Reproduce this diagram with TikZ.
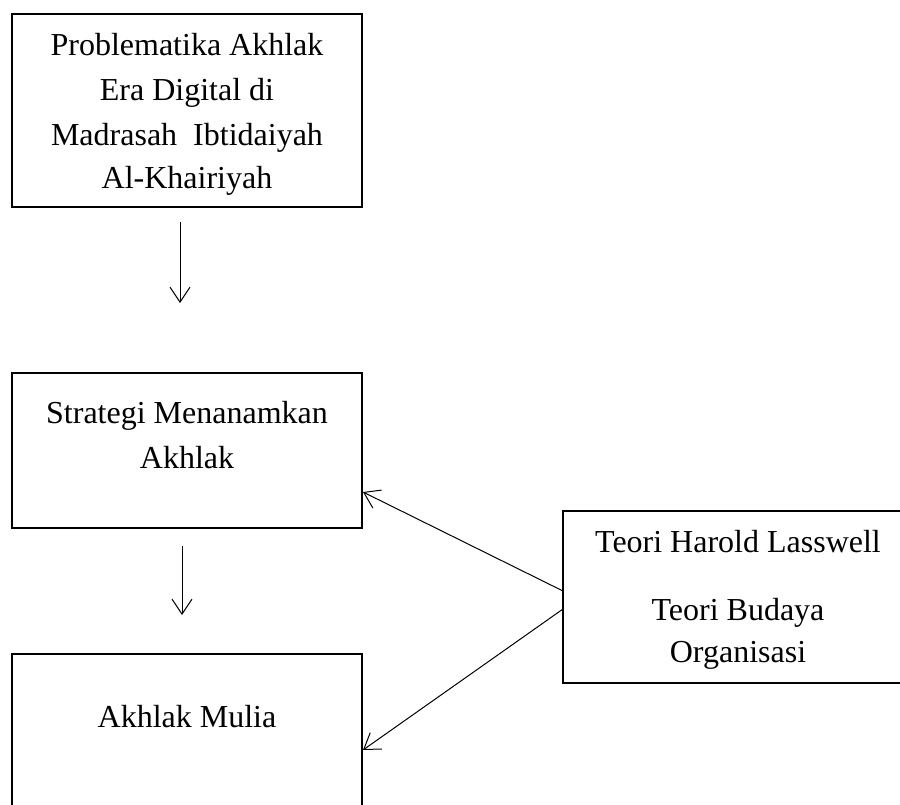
\documentclass[tikz,border=0pt]{standalone}
\usepackage{fontspec}
\setmainfont{Liberation Serif}
\usetikzlibrary{arrows.meta,calc}
\begin{document}
\begin{tikzpicture}[x=1pt,y=-1pt,
  box/.style={draw=black,line width=2pt,minimum width=350,inner sep=0pt,outer sep=0pt},
  lbl/.style={anchor=base,inner sep=0pt,font=\fontsize{32}{44}\selectfont},
  conn/.style={line width=1pt,-{Straight Barb[length=15pt,width=20pt,line width=1pt]}}]
\useasboundingbox (0,0) rectangle (900,804);
\clip (0,0) rectangle (900,804);
\fill[white] (0,0) rectangle (900,804);
% boxes
\node[box,minimum height=193] (b1) at (187,110.5) {};
\node[box,minimum height=155] (b2) at (187,450.5) {};
\node[box,minimum height=186] (b3) at (187,747) {};
\node[box,minimum height=172] (b4) at (738,597) {};
% texts
\node[lbl] (t11) at (187,55) {Problematika Akhlak};
\node[lbl] (t12) at (187,100) {Era Digital di};
\node[lbl] (t13) at (187,145) {Madrasah~ Ibtidaiyah};
\node[lbl] (t14) at (187,188) {Al-Khairiyah};
\node[lbl] (t21) at (187,423) {Strategi Menanamkan};
\node[lbl] (t22) at (187,468) {Akhlak};
\node[lbl] (t31) at (187,727) {Akhlak Mulia};
\node[lbl] (t41) at (738,552) {Teori Harold Lasswell};
\node[lbl] (t42) at (738,620) {Teori Budaya};
\node[lbl] (t43) at (738,662) {Organisasi};
% connectors
\coordinate (a1s) at (180,222);
\coordinate (a1e) at (180,303);
\coordinate (a2s) at (182,546);
\coordinate (a2e) at (182,615);
\draw[conn] (a1s) -- (a1e);
\draw[conn] (a2s) -- (a2e);
\draw[conn] ($(b4.west)+(0,-6)$) -- ($(b2.south east)+(1,-36)$);
\draw[conn] ($(b4.west)+(0,12)$) -- ($(b3.north east)+(1,96)$);
\end{tikzpicture}
\end{document}
